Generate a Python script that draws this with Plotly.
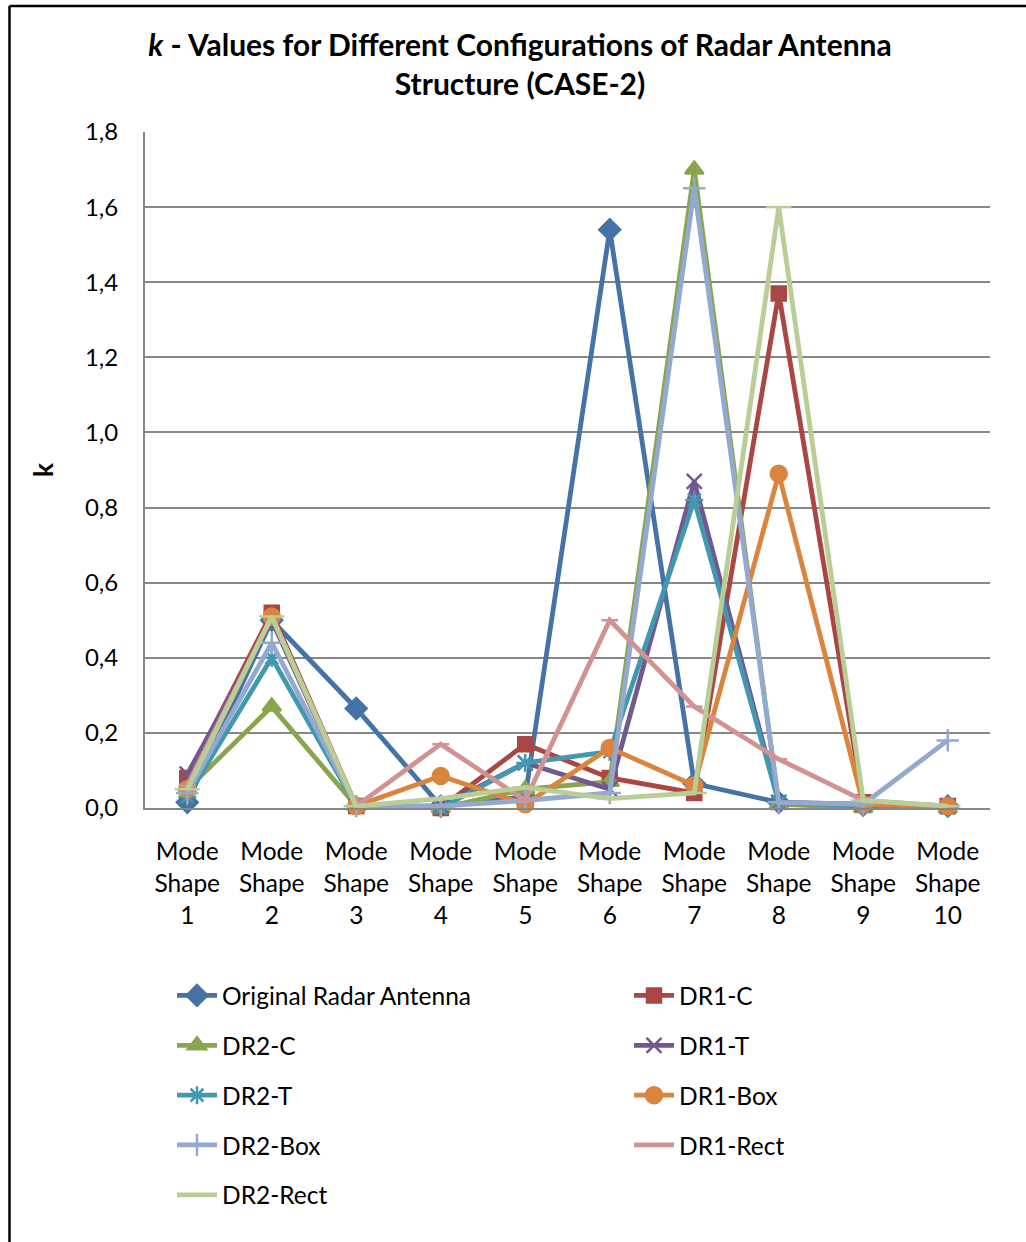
import plotly.graph_objects as go

# Mode shape categories (x axis)
modes = [f"Mode<br>Shape<br>{i}" for i in range(1, 11)]

# k values per configuration
original_radar = [0.015, 0.50, 0.265, 0.005, 0.03, 1.54, 0.065, 0.015, 0.008, 0.005]
dr1_c = [0.08, 0.52, 0.005, 0.0, 0.17, 0.08, 0.04, 1.37, 0.015, 0.005]
dr2_c = [0.05, 0.27, 0.005, 0.0, 0.05, 0.07, 1.70, 0.01, 0.0, 0.0]
dr1_t = [0.09, 0.50, 0.005, 0.005, 0.12, 0.05, 0.87, 0.015, 0.01, 0.005]
dr2_t = [0.03, 0.40, 0.005, 0.0, 0.12, 0.15, 0.82, 0.015, 0.005, 0.0]
dr1_box = [0.05, 0.51, 0.005, 0.085, 0.01, 0.16, 0.06, 0.89, 0.01, 0.005]
dr2_box = [0.04, 0.44, 0.005, 0.005, 0.02, 0.04, 1.65, 0.015, 0.01, 0.18]
dr1_rect = [0.06, 0.51, 0.005, 0.17, 0.02, 0.50, 0.27, 0.13, 0.02, 0.005]
dr2_rect = [0.05, 0.51, 0.005, 0.025, 0.055, 0.025, 0.04, 1.60, 0.02, 0.005]

y_ticks = [0.0, 0.2, 0.4, 0.6, 0.8, 1.0, 1.2, 1.4, 1.6, 1.8]

FONT = "Lato"

# name, values, colour, marker symbol, marker size, legend column
series = [
    ("Original Radar Antenna", original_radar, "#4572A7", "diamond", 16, "legend"),
    ("DR1-C", dr1_c, "#AA4643", "square", 14, "legend2"),
    ("DR2-C", dr2_c, "#89A54E", "triangle-up", 16, "legend"),
    ("DR1-T", dr1_t, "#71588F", "x-thin-open", 15, "legend2"),
    ("DR2-T", dr2_t, "#4198AF", "asterisk-open", 15, "legend"),
    ("DR1-Box", dr1_box, "#DB843D", "circle", 16, "legend2"),
    ("DR2-Box", dr2_box, "#93A9CF", "cross-thin-open", 16, "legend"),
    ("DR1-Rect", dr1_rect, "#D19392", "line-ew-open", 12, "legend2"),
    ("DR2-Rect", dr2_rect, "#B9CD96", "line-ew-open", 18, "legend"),
]

fig = go.Figure()
for name, vals, color, symbol, size, leg in series:
    fig.add_trace(go.Scatter(
        x=modes, y=vals, name=name, mode="lines+markers",
        line=dict(color=color, width=4.8),
        marker=dict(symbol=symbol, size=size, color=color,
                    line=dict(color=color, width=2.5)),
        cliponaxis=False, legend=leg, legendgroup=name,
    ))

# Plot area: x 145..990 px, y 132..808 px
L, R, T, B = 145, 36, 132, 434
W, H = 1026, 1242
pw, ph = W - L - R, H - T - B


def fx(px):
    return (px - L) / pw


def fy(py):
    return (H - B - py) / ph


legend_common = dict(
    orientation="v", font=dict(family=FONT, size=24.5, color="#000000"),
    bgcolor="rgba(0,0,0,0)", tracegroupgap=15, itemwidth=40,
    xanchor="left", yanchor="top",
)

fig.update_layout(
    width=W, height=H,
    margin=dict(l=L, r=R, t=T, b=B, autoexpand=False),
    paper_bgcolor="white", plot_bgcolor="white",
    separators=", ",
    font=dict(family=FONT, size=24, color="#000000"),
    title=dict(
        text="<i>k</i> - Values for Different Configurations of Radar Antenna<br>Structure (CASE-2)",
        font=dict(family=FONT, size=30, color="#000000", weight="bold"),
        x=520 / W, xanchor="center", xref="container",
        y=1 - 56 / H, yanchor="top", yref="container",
    ),
    xaxis=dict(
        range=[-0.5, 9.5],
        showgrid=False, showline=True, linecolor="#868686", linewidth=2,
        ticks="", tickfont=dict(family=FONT, size=24.5),
        ticklabelstandoff=21,
    ),
    yaxis=dict(
        range=[0, 1.8], tickvals=y_ticks, tickformat=".1f",
        showgrid=True, gridcolor="#868686", gridwidth=2,
        showline=True, linecolor="#868686", linewidth=2,
        zeroline=False, ticks="", ticklabelstandoff=20,
        tickfont=dict(family=FONT, size=24),
        title=dict(text="<b>k</b>", font=dict(family=FONT, size=26), standoff=24),
    ),
    legend=dict(x=fx(172), y=fy(973), **legend_common),
    legend2=dict(x=fx(629), y=fy(973), **legend_common),
    showlegend=True,
    shapes=[
        # chart frame (top and left edges)
        dict(type="line", xref="paper", yref="paper",
             x0=fx(9.5), x1=fx(1040), y0=fy(6), y1=fy(6),
             line=dict(color="#000000", width=2.5)),
        dict(type="line", xref="paper", yref="paper",
             x0=fx(9.5), x1=fx(9.5), y0=fy(6), y1=fy(1260),
             line=dict(color="#000000", width=2.5)),
    ],
)

fig.write_html("out.html")
